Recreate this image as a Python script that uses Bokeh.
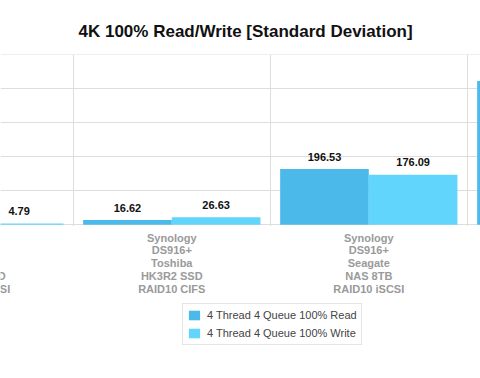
from bokeh.plotting import figure
from bokeh.models import (Range1d, FixedTicker, ColumnDataSource, LabelSet,
                          Legend, LegendItem, Grid)
from bokeh.layouts import column
from bokeh.core.properties import value
from bokeh.transform import dodge
from bokeh.embed import file_html
from bokeh.resources import INLINE

# ---- data ----
categories = [
    "Synology\nDS916+\nToshiba\nHK3R2 SSD\nRAID10 iSCSI",
    "Synology\nDS916+\nToshiba\nHK3R2 SSD\nRAID10 CIFS",
    "Synology\nDS916+\nSeagate\nNAS 8TB\nRAID10 iSCSI",
    "Synology\nDS916+\nSeagate\nNAS 8TB\nRAID10 CIFS",
]
read_values = [3.95, 16.62, 196.53, 507.0]
write_values = [4.79, 26.63, 176.09, 470.0]
series_names = ["4 Thread 4 Queue 100% Read", "4 Thread 4 Queue 100% Write"]
y_ticks = [0, 120, 240, 360, 480, 600]

READ_COLOR = "#4bbaea"
WRITE_COLOR = "#62d5fd"
GRID_COLOR = "#dddddd"
FONT = "Liberation Sans"

idx = list(range(len(categories)))
src = ColumnDataSource(dict(
    idx=idx,
    cat=categories,
    read=read_values,
    write=write_values,
    read_label=[f"{v:.2f}" for v in read_values],
    write_label=[f"{v:.2f}" for v in write_values],
))

X_RANGE = (0.1305, 2.567)
H1 = 226
W = 480

# ---------------- main plot area ----------------
p = figure(width=W, height=H1, output_backend="svg", toolbar_location=None,
           x_range=Range1d(*X_RANGE), y_range=Range1d(-6, 600.6),
           x_axis_location=None, y_axis_location=None,
           min_border_left=0, min_border_right=0,
           min_border_top=54, min_border_bottom=0)
p.outline_line_color = None
for g in p.grid:
    g.visible = False

p.add_layout(Grid(dimension=1, ticker=FixedTicker(ticks=y_ticks),
                  grid_line_color=GRID_COLOR, grid_line_width=1))
p.add_layout(Grid(dimension=0, ticker=FixedTicker(ticks=[i + 0.5 for i in idx]),
                  grid_line_color=GRID_COLOR, grid_line_width=1))

p.title.text = "4K 100% Read/Write [Standard Deviation]"
p.title.text_font = FONT
p.title.text_font_size = "17px"
p.title.text_font_style = "bold"
p.title.text_color = "#111111"
p.title.align = "left"
p.title.offset = 78
p.title.standoff = 27

w = 0.45
r_read = p.vbar(x=dodge("idx", -w / 2), top="read", width=w, source=src,
                fill_color=READ_COLOR, line_color=None)
r_write = p.vbar(x=dodge("idx", w / 2), top="write", width=w, source=src,
                 fill_color=WRITE_COLOR, line_color=None)

for col, lab, off in (("read", "read_label", -w / 2), ("write", "write_label", w / 2)):
    p.add_layout(LabelSet(x=dodge("idx", off), y=col, text=lab, source=src,
                          text_align="center", text_baseline="middle", y_offset=12.5,
                          text_font=value(FONT), text_font_size=value("11px"),
                          text_font_style="bold", text_color="#111111"))

# ---------------- category labels + legend strip ----------------
H2 = 378 - H1
p2 = figure(width=W, height=H2, output_backend="svg", toolbar_location=None,
            x_range=p.x_range, y_range=Range1d(H2, 0),
            x_axis_location=None, y_axis_location=None,
            min_border_left=0, min_border_right=0, min_border_top=0, min_border_bottom=0)
p2.outline_line_color = None
for g in p2.grid:
    g.visible = False

p2.text(x="idx", y=5, text="cat", source=src,
        text_align="center", text_baseline="top",
        text_font=value(FONT), text_font_size="11px", text_font_style="bold",
        text_color="#9a9a9a", text_line_height=1.08)

# legend swatches come from the same series, mapped onto a range that lies out of view
p2.extra_y_ranges = {"hidden": Range1d(5000, 6000)}
lr = p2.vbar(x="idx", top="read", width=w, source=src, y_range_name="hidden",
             fill_color=READ_COLOR, line_color=None)
lw = p2.vbar(x="idx", top="write", width=w, source=src, y_range_name="hidden",
             fill_color=WRITE_COLOR, line_color=None)

legend = Legend(items=[LegendItem(label=series_names[0], renderers=[lr]),
                       LegendItem(label=series_names[1], renderers=[lw])],
                location=(182, 33), orientation="vertical",
                border_line_color="#cccccc", background_fill_color="white",
                label_text_font=FONT, label_text_font_size="11px",
                label_text_color="#444444", glyph_width=14, glyph_height=12,
                label_height=14, label_standoff=6, spacing=4, padding=4, margin=0)
p2.add_layout(legend, "center")

open("out.html", "w").write(file_html(column(p, p2, spacing=0), INLINE))
